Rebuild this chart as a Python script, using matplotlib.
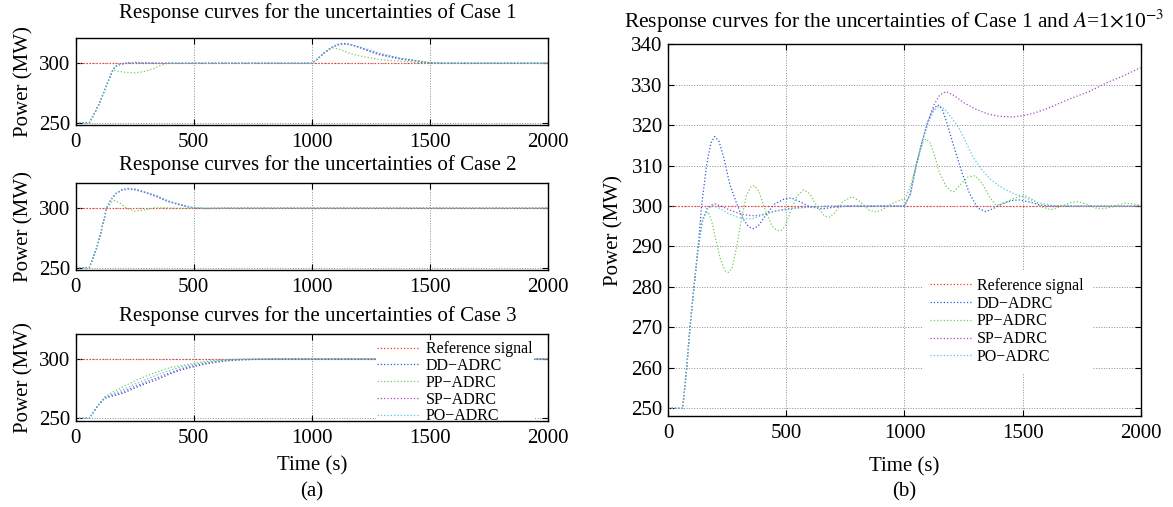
import matplotlib
matplotlib.use("Agg")
import matplotlib.pyplot as plt

plt.rcParams['font.family'] = ['Liberation Serif', 'DejaVu Serif']
plt.rcParams['mathtext.fontset'] = 'stix'

# ---- data ----
labels = ["Reference signal", "DD\u2212ADRC", "PP\u2212ADRC", "SP\u2212ADRC", "PO\u2212ADRC"]
colors = ['#ff3030', '#2a5cd8', '#70d050', '#a050c0', '#50c8e0']

t_ref = [0, 2000]
p_ref = [300, 300]

# Case 1 (panel a, top)
t1_dd = [0, 58, 80, 100, 120, 140, 159, 170, 190, 220, 250, 290, 340, 1000, 1020, 1050, 1080, 1110, 1134, 1160, 1200, 1246, 1290, 1332, 1380, 1431, 1470, 1502, 1550, 2000]
p1_dd = [250, 250, 258, 266, 276, 286, 295, 297.5, 299.3, 300.3, 300.8, 300.5, 300, 300, 303, 308.5, 313, 316, 316.7, 316, 313.5, 310.2, 307.5, 305.9, 303.8, 302.5, 301.2, 300.3, 300, 300]
t1_pp = [0, 58, 80, 100, 120, 140, 159, 180, 210, 251, 290, 330, 360, 386, 420, 1000, 1020, 1050, 1075, 1092, 1120, 1160, 1200, 1246, 1300, 1374, 1430, 1500, 1550, 2000]
p1_pp = [250, 250, 258, 266, 276, 286, 294.5, 293.3, 292.4, 291.9, 293, 295.5, 298.2, 299.8, 300, 300, 303, 308.5, 312, 313, 311.5, 308.5, 306.3, 304.6, 302.8, 301.8, 300.8, 300.2, 300, 300]
t1_sp = [0, 58, 80, 100, 120, 140, 159, 170, 190, 220, 250, 290, 340, 1000, 1020, 1050, 1080, 1110, 1140, 1170, 1210, 1250, 1290, 1332, 1380, 1431, 1470, 1502, 1550, 2000]
p1_sp = [250, 250, 258, 266, 276, 286, 295, 297.4, 299.2, 300.2, 300.6, 300.4, 300, 300, 303, 308.3, 312.8, 315.7, 316.3, 315.4, 312.8, 309.6, 307, 305.2, 303.3, 302.1, 301, 300.3, 300, 300]
t1_po = [0, 58, 80, 100, 120, 140, 159, 170, 190, 220, 250, 290, 340, 1000, 1020, 1050, 1080, 1110, 1130, 1160, 1200, 1250, 1290, 1332, 1380, 1431, 1470, 1510, 1560, 2000]
p1_po = [250, 250, 258, 266, 276, 286, 295, 297.3, 299.1, 300.1, 300.5, 300.3, 300, 300, 303, 308.2, 312.5, 315.2, 315.9, 316, 314, 311, 308.3, 306.3, 304.2, 302.8, 301.5, 300.5, 300, 300]

# Case 2 (panel a, middle)
t2_dd = [0, 58, 75, 90, 105, 118, 131, 150, 170, 195, 223, 250, 290, 343, 390, 442, 498, 550, 620, 2000]
p2_dd = [250, 250, 259, 267, 278, 289, 300, 307.5, 312.5, 315.6, 316.7, 316, 313.8, 310.2, 306, 303.1, 300.3, 299.8, 300, 300]
t2_pp = [0, 58, 75, 90, 105, 118, 131, 150, 166, 190, 220, 251, 290, 330, 370, 430, 2000]
p2_pp = [250, 250, 259, 267, 278, 289, 300, 305, 306.5, 304, 299.5, 297.5, 298.5, 300.3, 300.5, 300, 300]
t2_sp = [0, 58, 75, 90, 105, 118, 131, 150, 170, 195, 223, 250, 290, 343, 390, 442, 498, 550, 620, 2000]
p2_sp = [250, 250, 259, 267, 278, 289, 300, 307.3, 312.2, 315.2, 316.2, 315.6, 313.5, 309.8, 305.7, 302.8, 300.3, 299.8, 300, 300]
t2_po = [0, 58, 75, 90, 105, 118, 131, 150, 170, 195, 223, 250, 290, 343, 390, 442, 498, 550, 620, 2000]
p2_po = [250, 250, 259, 267, 278, 289, 300, 307.2, 312.2, 315.3, 316.3, 316.2, 314.2, 310.6, 306.4, 303.4, 300.6, 299.9, 300, 300]

# Case 3 (panel a, bottom)
t3_dd = [0, 58, 75, 95, 124, 160, 202, 250, 300, 343, 400, 450, 500, 550, 625, 700, 767, 850, 2000]
p3_dd = [250, 250, 255, 261, 267, 269, 271.2, 275.5, 279.5, 282.5, 287.5, 291, 293.5, 295.8, 298.2, 299.3, 299.7, 300, 300]
t3_pp = [0, 58, 75, 95, 124, 160, 202, 250, 300, 343, 400, 484, 550, 625, 700, 2000]
p3_pp = [250, 250, 255, 261, 268.3, 272.5, 276.8, 281.5, 285.8, 289, 292.8, 295.8, 298, 299.5, 300, 300]
t3_sp = [0, 58, 75, 95, 124, 160, 202, 250, 300, 343, 400, 450, 500, 550, 625, 700, 767, 850, 2000]
p3_sp = [250, 250, 255, 261, 267.3, 269.8, 272.5, 276.8, 280.8, 284, 288.5, 292, 294.4, 296.5, 298.6, 299.5, 299.8, 300, 300]
t3_po = [0, 58, 75, 95, 124, 160, 202, 250, 300, 343, 400, 450, 500, 550, 625, 700, 800, 2000]
p3_po = [250, 250, 255, 261, 267.8, 271, 274.3, 278.8, 283, 286.5, 290.5, 293.5, 295.5, 297.3, 299, 299.7, 300, 300]

# Case 1 with A = 1e-3 (panel b)
tb_dd = [0, 61, 78, 92, 109, 127, 141, 162, 180, 197, 215, 235, 260, 289, 315, 340, 359, 380, 410, 450, 490, 521, 560, 600, 650, 700, 760, 1000,
         1025, 1049, 1075, 1100, 1120, 1141, 1160, 1180, 1200, 1218, 1245, 1275, 1310, 1345, 1380, 1420, 1460, 1486, 1530, 1570, 1620, 2000]
pb_dd = [250, 250, 260, 270, 280, 290, 300, 310, 315.5, 317.2, 316, 312, 305.5, 300.7, 297, 294.9, 294.4, 295, 297.5, 300.5, 301.7, 302, 301, 299.8, 299.3, 299.7, 300, 300,
         303, 309.8, 316, 321, 323.8, 325, 324, 320.5, 316.5, 313.1, 308, 303.2, 299.5, 298.6, 299.5, 300.8, 301.4, 301.5, 301, 300.3, 300, 300]
tb_pp = [0, 61, 78, 92, 109, 127, 140, 155, 170, 185, 200, 220, 240, 255, 270, 290, 310, 330, 350, 366, 385, 410, 440, 460, 475, 495, 520, 545, 573,
         600, 630, 660, 680, 705, 740, 779, 810, 850, 880, 910, 950, 985, 1000, 1020, 1040, 1060, 1080, 1092, 1110, 1130, 1150, 1175, 1195, 1211,
         1240, 1270, 1300, 1330, 1360, 1387, 1420, 1460, 1490, 1514, 1545, 1580, 1620, 1660, 1700, 1732, 1770, 1810, 1838, 1880, 1930, 1970, 2000]
pb_pp = [250, 250, 260, 270, 280, 290, 295, 298, 298.5, 296, 292, 287, 284, 283.6, 284.5, 290, 297, 302.5, 304.8, 305, 303.5, 299, 295, 294, 293.9,
         295, 299, 302.5, 304, 303, 299.8, 297.6, 297.2, 298.3, 301.2, 302.3, 301.2, 299, 298.5, 299.2, 300.7, 301.5, 301.6, 304, 308, 312.5, 316,
         316.6, 315.5, 312, 308, 305, 303.8, 303.6, 305.5, 307.2, 307.5, 305.5, 302.3, 300.2, 300.5, 301.8, 302.4, 302.5, 301.5, 299.8, 299.1, 299.8,
         300.8, 301.1, 300.5, 299.5, 299.3, 299.8, 300.7, 300.5, 300.2]
tb_sp = [0, 61, 78, 92, 109, 127, 145, 165, 185, 200, 230, 270, 310, 340, 370, 410, 450, 500, 530, 600, 700, 1000, 1025, 1049, 1075, 1100, 1125, 1150,
         1176, 1210, 1250, 1300, 1350, 1400, 1458, 1500, 1550, 1600, 1641, 1700, 1782, 1850, 1920, 1993, 2000]
pb_sp = [250, 250, 260, 270, 280, 290, 296.5, 299.5, 300.3, 300.5, 299.8, 298.8, 298, 297.7, 297.6, 298, 298.7, 299.3, 299.5, 299.8, 300, 300, 303,
         309.8, 316, 321, 325, 327.5, 328.3, 327.3, 325.6, 324, 322.8, 322.2, 322, 322.3, 323, 324, 325, 326.5, 328.3, 330.3, 332, 334, 334.2]
tb_po = [0, 61, 78, 92, 109, 127, 145, 165, 190, 215, 250, 290, 320, 350, 380, 420, 460, 500, 550, 600, 700, 1000, 1025, 1049, 1075, 1100, 1125, 1148,
         1170, 1200, 1232, 1260, 1289, 1325, 1359, 1395, 1429, 1465, 1500, 1535, 1570, 1620, 1700, 2000]
pb_po = [250, 250, 260, 270, 280, 290, 296.5, 299.3, 300.1, 299.5, 298.3, 297.3, 296.9, 296.8, 297.3, 298.3, 298.8, 299.1, 299.5, 299.7, 300, 300,
         303, 309.8, 316, 320.5, 323.6, 324.8, 324, 321.8, 319.2, 315.8, 312.2, 309.2, 306.9, 305.2, 304, 303, 302.3, 301.5, 300.8, 300.2, 300, 300]

xticks = [0, 500, 1000, 1500, 2000]
FS = 15

fig = plt.figure(figsize=(11.73, 5.07), dpi=100)


def style(ax, yticks, ylim):
    ax.set_xlim(0, 2000)
    ax.set_ylim(*ylim)
    ax.set_xticks(xticks)
    ax.set_yticks(yticks)
    ax.grid(True, linestyle=':', color='0.55', linewidth=0.7)
    ax.tick_params(direction='in', top=True, right=True, length=4, width=0.8, labelsize=FS)
    ax.tick_params(axis='x', pad=6)
    ax.tick_params(axis='y', pad=4)
    for s in ax.spines.values():
        s.set_linewidth(1.0)
        s.set_zorder(6)


def curves(ax, series):
    for (t, p), c, lab in zip(series, colors, labels):
        ax.plot(t, p, linestyle=':', color=c, linewidth=0.9, label=lab)


left_pos = [(0.0645, 0.7535), (0.0645, 0.4675), (0.0645, 0.1702)]
cases = [
    [(t_ref, p_ref), (t1_dd, p1_dd), (t1_pp, p1_pp), (t1_sp, p1_sp), (t1_po, p1_po)],
    [(t_ref, p_ref), (t2_dd, p2_dd), (t2_pp, p2_pp), (t2_sp, p2_sp), (t2_po, p2_po)],
    [(t_ref, p_ref), (t3_dd, p3_dd), (t3_pp, p3_pp), (t3_sp, p3_sp), (t3_po, p3_po)],
]
pads = [14, 9.5, 9]
for i, ((x0, y0), ser) in enumerate(zip(left_pos, cases)):
    ax = fig.add_axes([x0, y0, 0.4027, 0.172])
    curves(ax, ser)
    style(ax, [250, 300], (248, 321.5))
    ax.set_title("Response curves for the uncertainties of Case %d" % (i + 1), fontsize=FS, pad=pads[i], x=0.512)
    ax.set_ylabel("Power (MW)", fontsize=FS)
    ax.yaxis.set_label_coords(-0.09, 0.5)
    if i == 2:
        ax.set_xlabel("Time (s)", fontsize=FS)
        ax.xaxis.set_label_coords(0.5, -0.405)
        ax.legend(fontsize=11.5, loc='upper left', bbox_to_anchor=(0.635, 0.93), borderaxespad=0,
                  borderpad=0.1, labelspacing=0.05, handlelength=2.7, handletextpad=0.35,
                  frameon=True, fancybox=False, edgecolor='none', framealpha=1)

axb = fig.add_axes([0.5697, 0.1795, 0.4027, 0.7333])
curves(axb, [(t_ref, p_ref), (tb_dd, pb_dd), (tb_pp, pb_pp), (tb_sp, pb_sp), (tb_po, pb_po)])
style(axb, list(range(250, 341, 10)), (248.1, 340))
axb.set_title(r"Response curves for the uncertainties of Case 1 and $\mathit{A}$=1$\times$10$^{-3}$",
              fontsize=15.5, pad=12, x=0.478)
axb.set_ylabel("Power (MW)", fontsize=FS)
axb.yaxis.set_label_coords(-0.095, 0.5)
axb.set_xlabel("Time (s)", fontsize=FS)
axb.xaxis.set_label_coords(0.5, -0.11)
axb.legend(fontsize=11.5, loc='upper left', bbox_to_anchor=(0.537, 0.393), borderaxespad=0,
           borderpad=0.5, labelspacing=0.11, handlelength=2.6, handletextpad=0.35,
           frameon=True, fancybox=False, edgecolor='none', framealpha=1)

fig.text(0.2658, 0.0296, "(a)", ha='center', va='center', fontsize=FS)
fig.text(0.771, 0.0296, "(b)", ha='center', va='center', fontsize=FS)

fig.savefig("out.png", dpi=100)
